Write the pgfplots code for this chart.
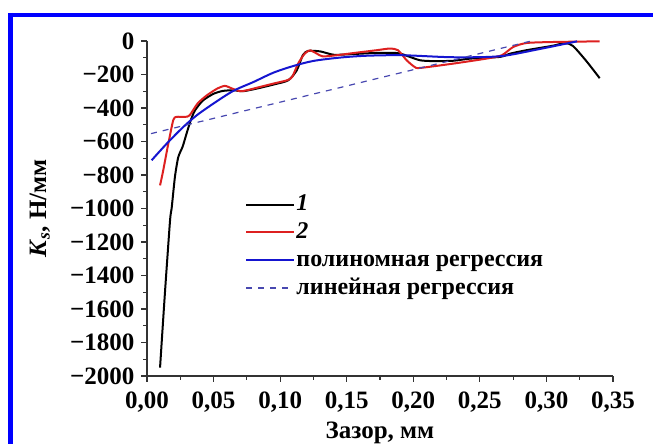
\documentclass[border=0pt]{standalone}
\usepackage{fontspec}
\setmainfont{Liberation Serif}
\usepackage{pgfplots}
\pgfplotsset{compat=1.18}
\definecolor{cred}{HTML}{DD2020}
\definecolor{cblue}{HTML}{1515D0}
\definecolor{clin}{HTML}{4848B0}
\definecolor{frameblue}{HTML}{0000FF}
\definecolor{axgray}{HTML}{333333}
\begin{document}
\begin{tikzpicture}[font=\fontsize{12.5}{14}\selectfont\bfseries]
\useasboundingbox (0,0) rectangle (326.5pt,222pt);
\draw[frameblue,line width=2pt] (4pt,214.5pt) -- (326.5pt,214.5pt);
\draw[frameblue,line width=2.5pt] (5.25pt,215.5pt) -- (5.25pt,0pt);
\begin{axis}[
  at={(73.5pt,34pt)}, anchor=south west,
  scale only axis, width=233pt, height=167.5pt,
  xmin=0, xmax=0.35, ymin=-2000, ymax=0,
  axis x line=bottom, axis y line=left,
  axis line style={-, axgray, line width=0.6pt},
  tick style={axgray, line width=0.6pt},
  tick align=outside,
  major tick length=2.8pt, minor tick length=1.8pt,
  xtick={0,0.05,0.1,0.15,0.2,0.25,0.3,0.35},
  xticklabels={{0,00},{0,05},{0,10},{0,15},{0,20},{0,25},{0,30},{0,35}},
  xticklabel style={yshift=-1.5pt},
  minor x tick num=1,
  ytick={-2000,-1800,-1600,-1400,-1200,-1000,-800,-600,-400,-200,0},
  yticklabels={−2000,−1800,−1600,−1400,−1200,−1000,−800,−600,−400,−200,0},
  minor y tick num=1,
  every axis x label/.style={at={(axis description cs:0.5,0)}, anchor=base, yshift=-31pt},
  every axis y label/.style={at={(axis description cs:-0.23,0.5)}, rotate=90, anchor=center},
  xlabel={Зазор, мм},
  ylabel={\textit{K}\textsubscript{\textit{s}}, Н/мм},
  clip=false,
  legend style={at={(rel axis cs:0.21,0.552)}, anchor=north west, draw=none, fill=none,
    inner sep=0pt, row sep=0.7pt, font=\fontsize{12}{14}\selectfont\bfseries,
    nodes={inner sep=0.6pt, text height=9pt, text depth=3pt}},
  legend cell align=left,
  legend image code/.code={\draw[#1] (0pt,0pt) -- (24pt,0pt);},
]
\addplot[black, line width=1pt, smooth, tension=0.4] coordinates {
(0.0098,-1950)(0.0135,-1500)(0.0173,-1072)(0.0185,-1000)(0.021,-810)(0.0235,-693)
(0.0268,-630)(0.030,-545)(0.033,-470)(0.036,-415)(0.042,-355)(0.050,-315)(0.057,-298)
(0.065,-294)(0.072,-300)(0.0825,-284)(0.095,-260)(0.106,-235)(0.1125,-175)(0.117,-85)
(0.121,-59)(0.130,-62)(0.140,-82)(0.150,-80)(0.170,-72)(0.188,-72)(0.195,-88)(0.205,-115)
(0.215,-120)(0.230,-118)(0.243,-105)(0.265,-95)(0.273,-75)(0.285,-55)(0.305,-28)
(0.314,-12)(0.320,-30)(0.330,-120)(0.340,-222)};
\addlegendentry{\textit{1}}
\addplot[cred, line width=1pt, smooth, tension=0.4] coordinates {
(0.0098,-862)(0.012,-780)(0.016,-613)(0.0197,-473)(0.022,-453)(0.0286,-453)(0.032,-444)
(0.038,-373)(0.045,-324)(0.053,-283)(0.0586,-268)(0.064,-284)(0.070,-300)(0.075,-294)
(0.085,-274)(0.095,-254)(0.105,-235)(0.109,-215)(0.1135,-135)(0.1185,-75)(0.1225,-56)
(0.1275,-75)(0.132,-92)(0.1425,-85)(0.155,-72)(0.1725,-55)(0.1825,-45)(0.1885,-55)
(0.195,-115)(0.201,-155)(0.205,-161)(0.230,-135)(0.255,-105)(0.2665,-85)(0.275,-36)
(0.285,-12)(0.305,-6)(0.340,-2)};
\addlegendentry{\textit{2}}
\addplot[cblue, line width=1pt, smooth, tension=0.5] coordinates {
(0.0035,-712)(0.0148,-613)(0.0273,-513)(0.0373,-444)(0.0498,-374)(0.0648,-298)
(0.0799,-245)(0.095,-189)(0.110,-149)(0.125,-119)(0.145,-99)(0.165,-88)(0.192,-85)
(0.230,-97)(0.265,-91)(0.293,-51)(0.323,-2)};
\addlegendentry{полиномная регрессия}
\addplot[clin, line width=0.6pt, dash pattern=on 3pt off 3pt] coordinates {
(0.003,-553)(0.2875,-2)};
\addlegendentry{линейная регрессия}
\end{axis}
\end{tikzpicture}
\end{document}
